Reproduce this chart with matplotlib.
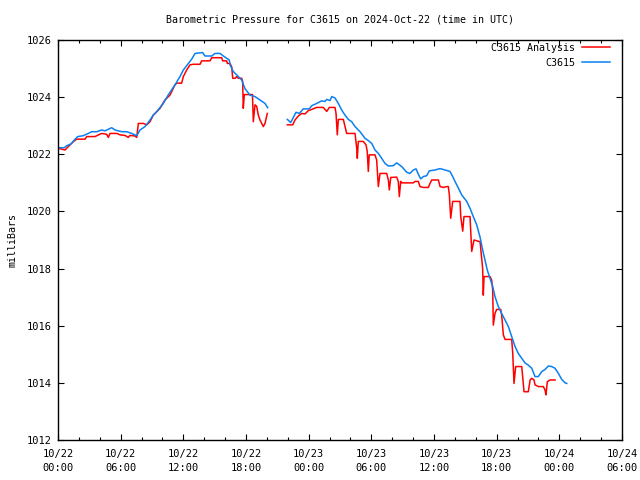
import matplotlib
matplotlib.use('Agg')
import matplotlib.pyplot as plt
import matplotlib.dates as mdates
import numpy as np
from datetime import datetime, timedelta

plt.rcParams['font.family'] = ['DejaVu Sans Mono']
plt.rcParams['font.size'] = 7.2

start = datetime(2024, 10, 22, 0, 0)

# hours since 10/22 00:00 and pressure (mb); nan marks the data gap
station_hours = [0.03, 0.60, 0.83, 1.24, 1.56, 1.89, 2.42, 2.90, 3.23, 3.71, 4.18, 4.50, 5.14, 5.46,
                 6.10, 6.58, 7.06, 7.54, 7.85, 8.33, 8.81, 9.12, 9.45, 10.08, 10.56, 11.20, 11.68,
                 12.00, 12.48, 12.80, 13.12, 13.85, 14.07, 14.72, 15.03, 15.51, 15.83, 16.15, 16.40,
                 16.47, 16.78, 17.26, 17.59, 17.90, 18.38, 18.86, 19.34, 19.82, 20.08, 21.0,
                 21.96, 22.28, 22.79, 23.10, 23.49, 24.06, 24.29, 24.77, 25.25, 25.56, 25.73, 26.04,
                 26.21, 26.52, 26.84, 27.16, 27.48, 27.80, 28.12, 28.44, 28.92, 29.39, 29.71, 30.04,
                 30.35, 30.67, 30.99, 31.31, 31.63, 32.10, 32.43, 32.91, 33.39, 33.70, 34.02, 34.28,
                 34.50, 34.73, 34.98, 35.30, 35.55, 36.10, 36.58, 37.05, 37.53, 37.79, 38.01, 38.33,
                 38.65, 39.13, 39.45, 39.76, 40.09, 40.41, 40.66, 40.88, 41.10, 41.36, 41.62, 41.84,
                 42.16, 42.48, 42.80, 43.12, 43.44, 43.76, 44.07, 44.40, 44.71, 45.03, 45.36, 45.67,
                 45.99, 46.31, 46.63, 46.95, 47.27, 47.59, 47.91, 48.23, 48.55, 48.71]
station_mb = [1022.23, 1022.23, 1022.30, 1022.36, 1022.50, 1022.62, 1022.65, 1022.73, 1022.79, 1022.79,
              1022.85, 1022.82, 1022.93, 1022.85, 1022.79, 1022.79, 1022.73, 1022.65, 1022.85, 1022.97,
              1023.20, 1023.37, 1023.49, 1023.78, 1024.08, 1024.43, 1024.72, 1024.95, 1025.18, 1025.33,
              1025.53, 1025.56, 1025.44, 1025.44, 1025.53, 1025.53, 1025.44, 1025.36, 1025.30, 1025.13,
              1024.90, 1024.72, 1024.60, 1024.30, 1024.07, 1024.02, 1023.90, 1023.78, 1023.63, np.nan,
              1023.22, 1023.11, 1023.47, 1023.43, 1023.59, 1023.59, 1023.70, 1023.78, 1023.87, 1023.85,
              1023.92, 1023.88, 1024.02, 1023.97, 1023.78, 1023.55, 1023.37, 1023.22, 1023.14, 1022.97,
              1022.79, 1022.56, 1022.48, 1022.38, 1022.15, 1022.03, 1021.86, 1021.68, 1021.59, 1021.60,
              1021.70, 1021.57, 1021.37, 1021.33, 1021.45, 1021.49, 1021.30, 1021.14, 1021.22, 1021.25,
              1021.42, 1021.45, 1021.50, 1021.45, 1021.40, 1021.22, 1021.05, 1020.82, 1020.58, 1020.35,
              1020.11, 1019.82, 1019.53, 1019.10, 1018.65, 1018.30, 1017.95, 1017.66, 1017.37, 1017.02,
              1016.67, 1016.43, 1016.20, 1015.97, 1015.62, 1015.27, 1015.03, 1014.86, 1014.70, 1014.62,
              1014.51, 1014.22, 1014.22, 1014.39, 1014.47, 1014.59, 1014.57, 1014.51, 1014.33, 1014.12,
              1014.00, 1013.98]

analysis_hours = [0.03, 0.67, 0.99, 1.46, 1.79, 2.59, 2.75, 3.54, 4.18, 4.66, 4.82, 4.98, 5.62, 5.94,
                  6.42, 6.73, 6.89, 7.37, 7.54, 7.69, 8.17, 8.49, 8.81, 9.12, 9.29, 9.77, 10.24, 10.72,
                  11.20, 11.36, 11.84, 12.00, 12.32, 12.64, 12.95, 13.60, 13.76, 14.55, 14.72, 15.67,
                  15.77, 16.15, 16.21, 16.47, 16.63, 16.73, 16.95, 17.11, 17.26, 17.59, 17.68, 17.74,
                  17.84, 18.38, 18.62, 18.70, 18.86, 19.02, 19.18, 19.34, 19.66, 19.82, 20.04, 21.0,
                  21.96, 22.47, 22.69, 23.01, 23.33, 23.65, 23.97, 24.29, 24.77, 25.40, 25.56, 25.73,
                  25.98, 26.52, 26.62, 26.74, 26.84, 27.32, 27.48, 27.64, 28.44, 28.60, 28.66, 28.75,
                  29.23, 29.49, 29.61, 29.71, 29.80, 30.35, 30.51, 30.67, 30.83, 31.47, 31.63, 31.72,
                  31.86, 32.43, 32.58, 32.68, 32.81, 32.91, 34.02, 34.18, 34.50, 34.66, 34.98, 35.46,
                  35.62, 35.78, 36.42, 36.58, 36.89, 37.22, 37.37, 37.47, 37.60, 37.79, 38.49, 38.56,
                  38.75, 38.87, 39.45, 39.61, 39.83, 40.41, 40.66, 40.72, 40.79, 41.36, 41.52, 41.62,
                  41.68, 41.84, 42.00, 42.39, 42.48, 42.64, 42.80, 43.44, 43.54, 43.66, 43.82, 44.40,
                  44.49, 44.62, 45.03, 45.20, 45.36, 45.58, 45.67, 45.99, 46.47, 46.63, 46.72, 46.85,
                  47.11, 47.59]
analysis_mb = [1022.21, 1022.15, 1022.27, 1022.44, 1022.53, 1022.53, 1022.62, 1022.62, 1022.73, 1022.70,
               1022.59, 1022.73, 1022.73, 1022.68, 1022.66, 1022.59, 1022.66, 1022.64, 1022.59, 1023.08,
               1023.08, 1023.03, 1023.14, 1023.37, 1023.43, 1023.61, 1023.90, 1024.07, 1024.43, 1024.49,
               1024.49, 1024.72, 1024.95, 1025.13, 1025.15, 1025.15, 1025.27, 1025.27, 1025.38, 1025.38,
               1025.27, 1025.27, 1025.18, 1025.18, 1025.06, 1024.66, 1024.66, 1024.72, 1024.66, 1024.66,
               1024.55, 1023.61, 1024.09, 1024.09, 1024.09, 1023.14, 1023.73, 1023.68, 1023.37, 1023.20,
               1022.97, 1023.08, 1023.43, np.nan,
               1023.03, 1023.03, 1023.20, 1023.34, 1023.43, 1023.41, 1023.53, 1023.57, 1023.64, 1023.64,
               1023.57, 1023.50, 1023.64, 1023.64, 1023.43, 1022.68, 1023.22, 1023.22, 1022.97, 1022.73,
               1022.73, 1022.21, 1021.86, 1022.45, 1022.45, 1022.33, 1022.10, 1021.40, 1021.98, 1021.98,
               1021.80, 1020.87, 1021.33, 1021.33, 1021.10, 1020.75, 1021.19, 1021.20, 1021.05, 1020.52,
               1021.05, 1021.00, 1021.00, 1021.05, 1021.05, 1020.87, 1020.84, 1020.84, 1020.98, 1021.10,
               1021.10, 1020.87, 1020.84, 1020.87, 1020.87, 1020.58, 1019.76, 1020.35, 1020.35, 1019.82,
               1019.31, 1019.82, 1019.82, 1018.60, 1019.00, 1018.94, 1018.00, 1017.07, 1017.72, 1017.72,
               1017.60, 1017.25, 1016.02, 1016.43, 1016.57, 1016.57, 1016.37, 1015.68, 1015.52, 1015.52,
               1015.03, 1013.98, 1014.57, 1014.57, 1014.22, 1013.69, 1013.69, 1014.10, 1014.16, 1014.10,
               1013.93, 1013.87, 1013.87, 1013.75, 1013.58, 1014.04, 1014.10, 1014.10]


def to_times(hours):
    return [start + timedelta(hours=h) for h in hours]


fig = plt.figure(figsize=(6.4, 4.8), dpi=100)
ax = fig.add_axes([58 / 640, 40 / 480, 564 / 640, 400 / 480])

ax.plot(to_times(analysis_hours), analysis_mb, color='#ff0000', linewidth=1.1, label='C3615 Analysis')
ax.plot(to_times(station_hours), station_mb, color='#0a80f0', linewidth=1.1, label='C3615')

ax.set_xlim(start, start + timedelta(hours=54))
ax.set_ylim(1012, 1026)
ax.set_yticks(np.arange(1012, 1027, 2))
ax.xaxis.set_major_locator(mdates.HourLocator(byhour=[0, 6, 12, 18]))
ax.xaxis.set_minor_locator(mdates.HourLocator(interval=2))
ax.xaxis.set_major_formatter(mdates.DateFormatter('%m/%d\n%H:%M'))

ax.tick_params(which='both', direction='in', top=True, right=True, width=0.8, labelsize=7.5)
ax.tick_params(which='major', length=4.5)
ax.tick_params(axis='x', which='major', pad=6.5)
ax.tick_params(axis='y', which='major', pad=4.5)
ax.tick_params(which='minor', length=2.5)
for lab in ax.get_xticklabels():
    lab.set_linespacing(1.45)
for s in ax.spines.values():
    s.set_linewidth(1.0)

ax.set_title('Barometric Pressure for C3615 on 2024-Oct-22 (time in UTC)', fontsize=7.2, pad=12.5)
ax.set_ylabel('milliBars', fontsize=7.2, labelpad=6.5)

ax.legend(loc='upper right', bbox_to_anchor=(0.9858, 1.0025), frameon=False, markerfirst=False,
          fontsize=7.2, handlelength=2.8, handletextpad=0.7, labelspacing=0.5,
          borderaxespad=0.0, borderpad=0.4)

fig.savefig('out.png', dpi=100)
